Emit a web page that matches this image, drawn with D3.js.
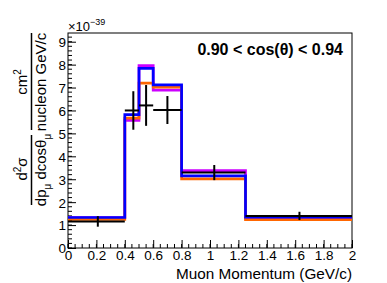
<!DOCTYPE html>
<html>
<head>
<meta charset="utf-8">
<script src="https://cdn.jsdelivr.net/npm/d3@7"></script>
<style>
  body { margin: 0; background: #fff; }
  svg { display: block; font-family: "Liberation Sans", Arial, sans-serif; }
</style>
</head>
<body>
<div id="chart"></div>
<script>
// bin edges in muon momentum (GeV/c)
const binEdges = [0, 0.4, 0.5, 0.6, 0.8, 1.25, 2];

// data points (x = mean momentum in bin), values in 1e-39 cm^2/nucleon/GeV/c
const dataX = [0.21, 0.46, 0.55, 0.70, 1.03, 1.63];
const dataY = [1.16, 6.00, 6.22, 6.02, 3.29, 1.40];
const dataErr = [0.23, 0.84, 0.89, 0.61, 0.33, 0.18];

// model predictions
const magentaVals = [1.33, 5.57, 7.96, 6.89, 3.38, 1.29];
const orangeVals = [1.25, 5.67, 7.19, 7.02, 3.02, 1.24];
const blueVals = [1.33, 5.82, 7.84, 7.12, 3.15, 1.35];

const series = [
  { name: "magenta", color: "#cc00ff", values: magentaVals },
  { name: "orange", color: "#ff6600", values: orangeVals },
  { name: "blue", color: "#0000ff", values: blueVals }
];

const xTicks = [0, 0.2, 0.4, 0.6, 0.8, 1, 1.2, 1.4, 1.6, 1.8, 2];
const yTicks = [0, 1, 2, 3, 4, 5, 6, 7, 8, 9];

const W = 387, H = 283;
const margin = { top: 33, right: 35, bottom: 35, left: 68 };
const width = W - margin.left - margin.right;
const height = H - margin.top - margin.bottom;

const svg = d3.select('#chart')
  .append('svg')
  .attr('width', W)
  .attr('height', H);

const g = svg.append('g')
  .attr('transform', `translate(${margin.left},${margin.top})`);

const x = d3.scaleLinear().domain([0, 2]).range([0, width]);
const y = d3.scaleLinear().domain([0, 9.38]).range([height, 0]);

// frame
g.append('rect')
  .attr('width', width)
  .attr('height', height)
  .attr('fill', 'none')
  .attr('stroke', '#000')
  .attr('stroke-width', 1);

// x axis: ticks point inward
const xAxis = g.append('g')
  .attr('transform', `translate(0,${height})`)
  .call(d3.axisBottom(x).tickValues(xTicks).tickSizeInner(-8).tickSizeOuter(0)
    .tickFormat(d3.format('~g')));
xAxis.select('.domain').remove();
xAxis.selectAll('text').attr('dy', 0).attr('y', 11.5)
  .style('font-size', '13.5px');
// minor x ticks
g.append('g').selectAll('line')
  .data(d3.range(0, 2.0001, 0.05))
  .join('line')
  .attr('x1', d => x(d)).attr('x2', d => x(d))
  .attr('y1', height).attr('y2', height - 4)
  .attr('stroke', '#000');

// y axis
const yAxis = g.append('g')
  .call(d3.axisLeft(y).tickValues(yTicks).tickSizeInner(-8).tickSizeOuter(0));
yAxis.select('.domain').remove();
yAxis.selectAll('text').attr('x', -2).attr('dy', '0.36em').style('font-size', '13.5px');
g.append('g').selectAll('line')
  .data(d3.range(0, 9.3, 0.2))
  .join('line')
  .attr('x1', 0).attr('x2', 4)
  .attr('y1', d => y(d)).attr('y2', d => y(d))
  .attr('stroke', '#000');

// histograms
const stepLine = d3.line()
  .x(d => x(d[0]))
  .y(d => y(d[1]))
  .curve(d3.curveStepAfter);

series.forEach(s => {
  const pts = s.values.map((v, i) => [binEdges[i], v]);
  pts.push([binEdges[binEdges.length - 1], s.values[s.values.length - 1]]);
  g.append('path')
    .attr('d', stepLine(pts))
    .attr('fill', 'none')
    .attr('stroke', s.color)
    .attr('stroke-width', 2.7);
});

// data points with errors
const pts = g.append('g');
dataX.forEach((dx, i) => {
  pts.append('line')
    .attr('x1', x(binEdges[i])).attr('x2', x(binEdges[i + 1]))
    .attr('y1', y(dataY[i])).attr('y2', y(dataY[i]))
    .attr('stroke', '#000').attr('stroke-width', 2);
  pts.append('line')
    .attr('x1', x(dx)).attr('x2', x(dx))
    .attr('y1', y(dataY[i] - dataErr[i])).attr('y2', y(dataY[i] + dataErr[i]))
    .attr('stroke', '#000').attr('stroke-width', 2);
});

// exponent label
const ex = svg.append('text')
  .attr('x', margin.left)
  .attr('y', 31)
  .style('font-size', '13px');
ex.append('tspan').text('\u00d710');
ex.append('tspan').attr('dy', -6).style('font-size', '9px').text('\u221239');

// cut label
svg.append('text')
  .attr('x', 343)
  .attr('y', 55)
  .attr('text-anchor', 'end')
  .style('font-size', '16px')
  .style('font-weight', 'bold')
  .text('0.90 < cos(\u03b8) < 0.94');

// x title
svg.append('text')
  .attr('x', 352)
  .attr('y', 279)
  .attr('text-anchor', 'end')
  .style('font-size', '15.3px')
  .text('Muon Momentum (GeV/c)');

// y title: two stacked fractions, rotated
const yt = svg.append('g').attr('transform', 'rotate(-90)');
// fraction 1: cm^2 / nucleon GeV/c, centred at screen y=82
const f1 = -82;
const n1 = yt.append('text').attr('x', f1).attr('y', 27).attr('text-anchor', 'middle')
  .style('font-size', '15px');
n1.append('tspan').text('cm');
n1.append('tspan').attr('dy', -6).style('font-size', '10px').text('2');
yt.append('line').attr('x1', -130).attr('x2', -33).attr('y1', 31.5).attr('y2', 31.5)
  .attr('stroke', '#000').attr('stroke-width', 1.5);
yt.append('text').attr('x', f1).attr('y', 46).attr('text-anchor', 'middle')
  .style('font-size', '15px').text('nucleon GeV/c');

// fraction 2: d^2 sigma / dp_mu dcos theta_mu
const n2 = yt.append('text').attr('x', -169).attr('y', 27).attr('text-anchor', 'middle')
  .style('font-size', '15px');
n2.append('tspan').text('d');
n2.append('tspan').attr('dy', -6).style('font-size', '10px').text('2');
n2.append('tspan').attr('dy', 6).text('\u03c3');
yt.append('line').attr('x1', -205).attr('x2', -135).attr('y1', 31.5).attr('y2', 31.5)
  .attr('stroke', '#000').attr('stroke-width', 1.5);
const d2 = yt.append('text').attr('x', -170).attr('y', 46).attr('text-anchor', 'middle')
  .style('font-size', '15px');
d2.append('tspan').text('dp');
d2.append('tspan').attr('dy', 5).style('font-size', '10px').text('\u03bc');
d2.append('tspan').attr('dy', -5).text(' dcos\u03b8');
d2.append('tspan').attr('dy', 5).style('font-size', '10px').text('\u03bc');
</script>
</body>
</html>
